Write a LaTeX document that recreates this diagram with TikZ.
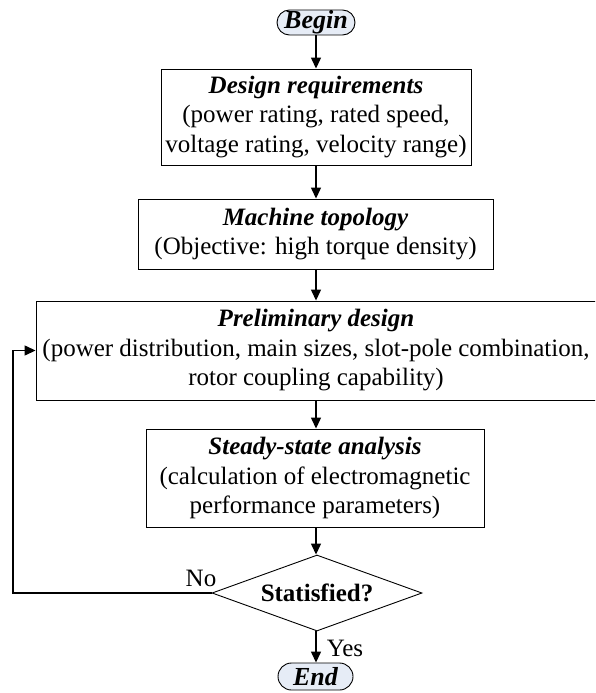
\documentclass[tikz,border=0pt]{standalone}
\usepackage{fontspec}
\setmainfont{Liberation Serif}
\usetikzlibrary{arrows.meta,shapes.geometric}
\definecolor{termfill}{RGB}{230,236,246}
\begin{document}
\begin{tikzpicture}[x=1pt,y=-1pt,
  txt/.style={font=\fontsize{25}{29.5}\selectfont},
  box/.style={draw, line width=0.9pt, inner sep=0pt, align=center, txt},
  term/.style={draw, line width=0.9pt, rounded corners=12.5pt, fill=termfill, inner sep=0pt,
    font=\fontsize{26}{29}\selectfont\bfseries\itshape},
  decision/.style={draw, diamond, line width=0.9pt, inner sep=0pt, aspect=2.76,
    font=\fontsize{25}{29}\selectfont\bfseries},
  arr/.style={line width=1.3pt, -{Triangle[length=11pt,width=10pt]}},
]
\useasboundingbox (0,0) rectangle (595,693);
\clip (0,0) rectangle (595,693);

\node[term, minimum width=78, minimum height=25] (begin) at (316,22.5) {Begin};

\node[box, minimum width=310, minimum height=96] (b1) at (316,117)
  {\textbf{\textit{Design requirements}}\\(power rating, rated speed,\\voltage rating, velocity range)};

\node[box, minimum width=355, minimum height=70] (b2) at (315.5,234)
  {\textbf{\textit{Machine topology}}\\(Objective: high torque density)};

\node[box, minimum width=560, minimum height=99] (b3) at (316,350.5)
  {\textbf{\textit{Preliminary design}}\\(power distribution, main sizes, slot-pole combination,\\rotor coupling capability)};

\node[box, minimum width=338, minimum height=98] (b4) at (315,478)
  {\textbf{\textit{Steady-state analysis}}\\(calculation of electromagnetic\\performance parameters)};

\node[decision, minimum width=210, minimum height=76] (d) at (317,593) {Statisfied?};

\node[term, minimum width=75, minimum height=27, rounded corners=13.5pt] (end) at (315.5,676.5) {End};

\node[txt, inner sep=0pt] (no) at (201,578) {No};
\node[txt, inner sep=0pt] (yes) at (345,648) {Yes};

\coordinate (lp) at (13,593);

\draw[arr] (begin.south) -- (b1.north -| begin.south);
\draw[arr] (b1.south -| begin.south) -- (b2.north -| begin.south);
\draw[arr] (b2.south -| begin.south) -- (b3.north -| begin.south);
\draw[arr] (b3.south -| begin.south) -- (b4.north -| begin.south);
\draw[arr] (b4.south -| begin.south) -- (d.north -| begin.south);
\draw[arr] (d.south -| begin.south) -- (end.north -| begin.south);
\draw[arr] (d.west) -- (lp) |- (b3.west);
\end{tikzpicture}
\end{document}
